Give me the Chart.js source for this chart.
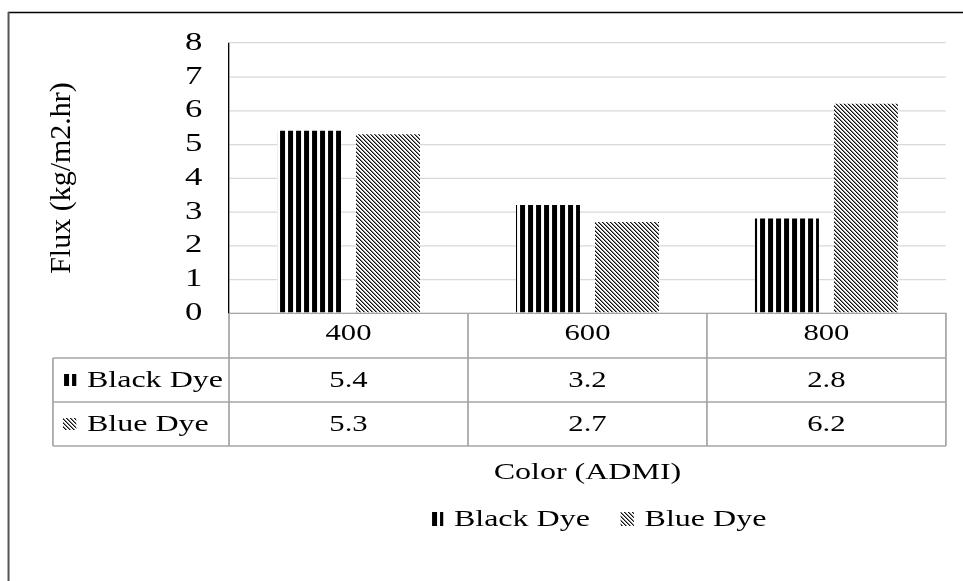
<!DOCTYPE html>
<html>
<head>
<meta charset="utf-8">
<title>Flux vs Color</title>
<script src="https://cdn.jsdelivr.net/npm/chart.js"></script>
<style>
  html, body { margin: 0; padding: 0; background: #fff; overflow: hidden; }
</style>
</head>
<body>
<!-- drawn on a 722 wide board, then spread out to 963 px (the reference is wide-stretched) -->
<canvas id="fluxChart" width="722" height="581" style="width:963px;height:774px"></canvas>

<script>
const categories = ['400', '600', '800'];
const blackDye = [5.4, 3.2, 2.8];
const blueDye = [5.3, 2.7, 6.2];
const seriesNames = ['Black Dye', 'Blue Dye'];
const yMin = 0, yMax = 8, yStep = 1;
const xTitle = 'Color (ADMI)';
const yTitle = 'Flux (kg/m2.hr)';

const SX = 963 / 722 + 1e-9;
const FONT = "'Liberation Serif', 'Times New Roman', serif";

// patterns are built in screen pixels so the stripes stay sharp
function stripePattern() {
  const c = document.createElement('canvas');
  c.width = 8; c.height = 8;
  const g = c.getContext('2d');
  g.fillStyle = '#fff'; g.fillRect(0, 0, 8, 8);
  g.fillStyle = '#000'; g.fillRect(0, 0, 5, 8);
  const p = g.createPattern(c, 'repeat');
  p.setTransform(new DOMMatrix([1 / SX, 0, 0, 1, 0, 0]));
  return p;
}
function hatchPattern() {
  const c = document.createElement('canvas');
  c.width = 8; c.height = 8;
  const g = c.getContext('2d');
  g.fillStyle = '#fff'; g.fillRect(0, 0, 8, 8);
  for (let y = 0; y < 8; y++) {
    for (let x = 0; x < 8; x++) {
      const k = ((x - y) % 4 + 4) % 4;
      if (k === 0) { g.fillStyle = '#000'; g.fillRect(x, y, 1, 1); }
      if (k === 1) { g.fillStyle = '#8a8a8a'; g.fillRect(x, y, 1, 1); }
    }
  }
  const p = g.createPattern(c, 'repeat');
  p.setTransform(new DOMMatrix([1 / SX, 0, 0, 1, 0, 0]));
  return p;
}

const fills = [stripePattern(), hatchPattern()];

const stretch = {
  id: 'stretch',
  beforeDraw(chart) {
    chart.ctx.setTransform(SX, 0, 0, 1, 0, 0);
  }
};

const extras = {
  id: 'extras',
  afterDraw(chart) {
    const ctx = chart.ctx;
    const xs = chart.scales.x;
    const area = chart.chartArea;
    const catW = (area.right - area.left) / categories.length;
    const rowTop = area.bottom;
    const rows = [rowTop, rowTop + 45, rowTop + 89, rowTop + 133];
    const tableLeft = 39.7;

    ctx.save();
    // outer frame
    ctx.strokeStyle = '#000';
    ctx.lineWidth = 1.5;
    ctx.beginPath(); ctx.moveTo(6, 12.5); ctx.lineTo(722, 12.5); ctx.stroke();
    ctx.strokeStyle = '#555';
    ctx.beginPath(); ctx.moveTo(6.4, 12); ctx.lineTo(6.4, 581); ctx.stroke();

    // data table grid
    ctx.strokeStyle = '#a6a6a6';
    ctx.lineWidth = 1.3;
    ctx.beginPath();
    for (let r = 1; r < rows.length; r++) {
      ctx.moveTo(tableLeft, rows[r]); ctx.lineTo(area.right, rows[r]);
    }
    ctx.moveTo(tableLeft, rows[1]); ctx.lineTo(tableLeft, rows[3]);
    for (let i = 0; i <= categories.length; i++) {
      const x = area.left + i * catW;
      ctx.moveTo(x, rows[0]); ctx.lineTo(x, rows[3]);
    }
    ctx.stroke();

    // row labels with keys, then values
    const series = [blackDye, blueDye];
    ctx.fillStyle = '#000';
    ctx.textBaseline = 'middle';
    for (let s = 0; s < series.length; s++) {
      const cy = (rows[s + 1] + rows[s + 2]) / 2;
      ctx.fillStyle = fills[s];
      ctx.fillRect(47.2, cy - 6, 10, 12);
      ctx.fillStyle = '#000';
      ctx.font = '24px ' + FONT;
      ctx.textAlign = 'left';
      ctx.fillText(seriesNames[s], 65.2, cy + 1);
      ctx.font = '23px ' + FONT;
      ctx.textAlign = 'center';
      series[s].forEach((v, i) => {
        ctx.fillText(v.toFixed(1), xs.getPixelForValue(i), cy + 1);
      });
    }

    // x title
    const midX = (area.left + area.right) / 2;
    ctx.font = '24px ' + FONT;
    ctx.textAlign = 'center';
    ctx.fillText(xTitle, midX, 473);

    // legend
    const keyW = 10, keyH = 14, keyGap = 8, itemGap = 23;
    const widths = seriesNames.map(n => ctx.measureText(n).width);
    const total = widths.reduce((a, w) => a + keyW + keyGap + w, 0) + itemGap;
    let lx = midX + 8 - total / 2;
    const ly = 519;
    seriesNames.forEach((n, s) => {
      ctx.fillStyle = fills[s];
      ctx.fillRect(lx, ly - keyH / 2, keyW, keyH);
      ctx.fillStyle = '#000';
      ctx.textAlign = 'left';
      ctx.fillText(n, lx + keyW + keyGap, ly + 1);
      lx += keyW + keyGap + widths[s] + itemGap;
    });

    // y title, drawn unstretched
    ctx.translate(46.5, (area.top + area.bottom) / 2);
    ctx.scale(1 / SX, 1);
    ctx.rotate(-Math.PI / 2);
    ctx.font = '30px ' + FONT;
    ctx.textAlign = 'center';
    ctx.fillText(yTitle, 0, 0);
    ctx.restore();
  }
};

new Chart(document.getElementById('fluxChart'), {
  type: 'bar',
  data: {
    labels: categories,
    datasets: [
      { label: seriesNames[0], data: blackDye, backgroundColor: fills[0], borderWidth: 0,
        barPercentage: 0.81, categoryPercentage: 0.661 },
      { label: seriesNames[1], data: blueDye, backgroundColor: fills[1], borderWidth: 0,
        barPercentage: 0.81, categoryPercentage: 0.661 }
    ]
  },
  options: {
    responsive: false,
    animation: false,
    devicePixelRatio: SX,
    layout: { padding: { left: 0, right: 12.8, top: 43, bottom: 0 } },
    plugins: { legend: { display: false }, tooltip: { enabled: false } },
    scales: {
      x: {
        grid: { display: false, drawTicks: false },
        border: { color: '#a6a6a6', width: 1.3 },
        ticks: { color: '#000', font: { family: FONT, size: 23 }, padding: 7 },
        afterFit: s => { s.height = 268; }
      },
      y: {
        min: yMin, max: yMax,
        grid: { color: '#d9d9d9', lineWidth: 1.3, drawTicks: false },
        border: { color: '#000', width: 1 },
        ticks: { stepSize: yStep, autoSkip: false, color: '#000', font: { family: FONT, size: 26 }, padding: 20 },
        afterFit: s => { s.width = 171.7; }
      }
    }
  },
  plugins: [stretch, extras]
});
</script>
</body>
</html>
